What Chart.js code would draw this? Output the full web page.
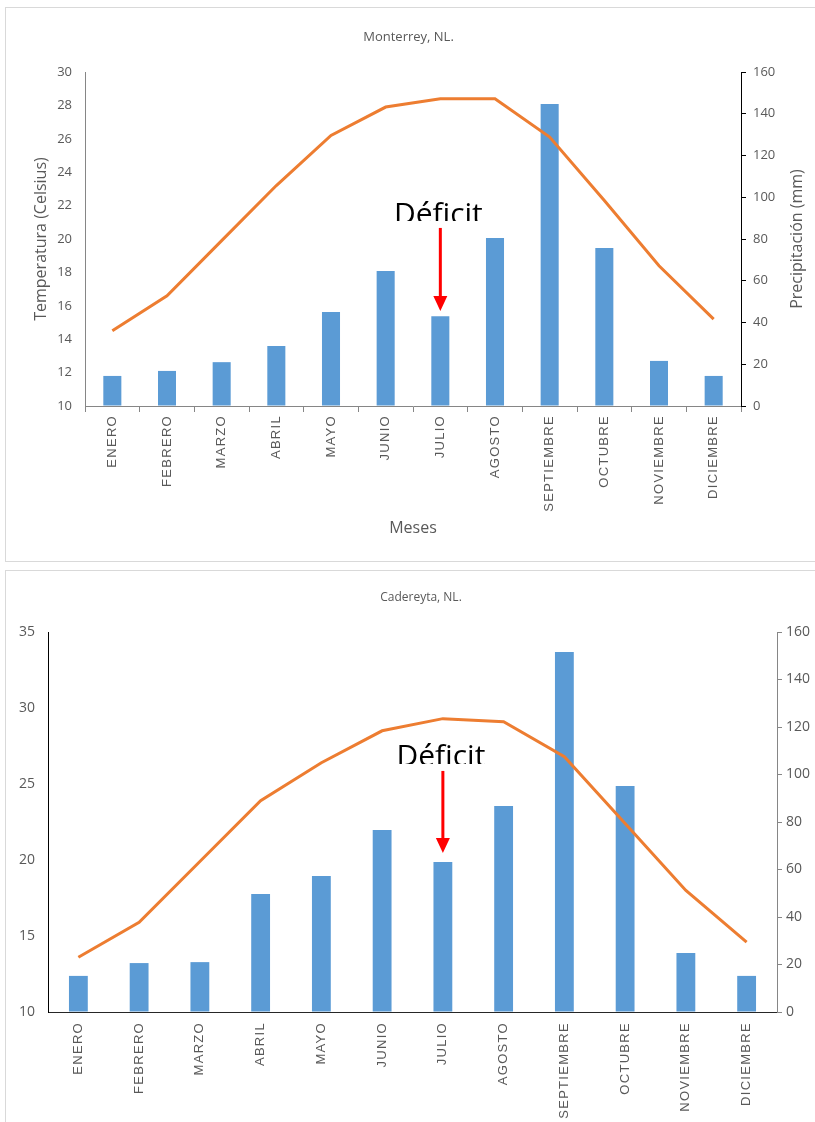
<!DOCTYPE html>
<html lang="es">
<head>
    <meta charset="UTF-8">
    <title>Climogramas Monterrey y Cadereyta</title>
    <script src="https://cdn.jsdelivr.net/npm/chart.js"></script>
    <style>
        html, body { margin: 0; padding: 0; background: #fff; overflow: hidden; }
        .frame { position: absolute; left: 5px; width: 830px; border: 1px solid #d9d9d9; }
        #f1 { top: 7px; height: 553px; }
        #f2 { top: 570px; height: 570px; }
        canvas { display: block; }
    </style>
</head>
<body>
    <div class="frame" id="f1"><canvas id="monterrey" width="830" height="553"></canvas></div>
    <div class="frame" id="f2"><canvas id="cadereyta" width="830" height="570"></canvas></div>

    <script>
        // Datos
        const meses = ['ENERO', 'FEBRERO', 'MARZO', 'ABRIL', 'MAYO', 'JUNIO', 'JULIO',
                       'AGOSTO', 'SEPTIEMBRE', 'OCTUBRE', 'NOVIEMBRE', 'DICIEMBRE'];
        const tempMonterrey = [14.5, 16.6, 19.9, 23.2, 26.2, 27.9, 28.4, 28.4, 26.1, 22.3, 18.4, 15.2];
        const precMonterrey = [14.4, 16.8, 21, 28.7, 45, 64.7, 43, 80.5, 144.7, 75.7, 21.6, 14.4];
        const tempCadereyta = [13.6, 15.9, 19.9, 23.9, 26.4, 28.5, 29.3, 29.1, 26.8, 22.4, 18.0, 14.6];
        const precCadereyta = [15.2, 20.6, 21, 49.7, 57.3, 76.6, 63.2, 86.7, 151.6, 95.2, 24.8, 15.2];

        const grey = '#595959';
        const orange = '#ED7D31';
        const blue = '#5B9BD5';

        // wider letter spacing for the month labels only
        const spacedLabels = {
            id: 'spacedLabels',
            beforeDraw(chart) {
                const sc = chart.scales.x;
                if (sc._spaced) return;
                const orig = sc.drawLabels.bind(sc);
                sc.drawLabels = (area) => {
                    chart.ctx.save();
                    chart.ctx.letterSpacing = '1.3px';
                    orig(area);
                    chart.ctx.restore();
                };
                sc._spaced = true;
            }
        };

        // right axis title reading bottom-to-top, like the left one
        const rightTitle = {
            id: 'rightTitle',
            afterDraw(chart, args, opts) {
                if (!opts.text) return;
                const ctx = chart.ctx;
                const sc = chart.scales.y1;
                ctx.save();
                ctx.translate(sc.right - opts.offset, (sc.top + sc.bottom) / 2);
                ctx.rotate(-Math.PI / 2);
                ctx.font = '16px "Open Sans"';
                ctx.fillStyle = grey;
                ctx.textAlign = 'center';
                ctx.textBaseline = 'middle';
                ctx.fillText(opts.text, 0, 0);
                ctx.restore();
            }
        };

        // "Déficit" label + red arrow over JULIO
        const deficit = {
            id: 'deficit',
            afterDatasetsDraw(chart, args, opts) {
                const ctx = chart.ctx;
                const x = chart.scales.x.getPixelForValue(opts.index);
                const y1 = chart.scales.y1;
                const yText = y1.getPixelForValue(opts.text);
                const yFrom = y1.getPixelForValue(opts.from);
                const yTo = y1.getPixelForValue(opts.to);
                ctx.save();
                ctx.beginPath();
                ctx.rect(x - 70, yText - 40, 140, 40 - opts.clip);
                ctx.clip();
                ctx.font = '30px "Open Sans"';
                ctx.fillStyle = '#000';
                ctx.textAlign = 'center';
                ctx.textBaseline = 'alphabetic';
                ctx.fillText('Déficit', x - 2, yText);
                ctx.restore();

                ctx.save();
                ctx.strokeStyle = '#ff0000';
                ctx.fillStyle = '#ff0000';
                ctx.lineWidth = 3;
                ctx.beginPath();
                ctx.moveTo(x, yFrom);
                ctx.lineTo(x, yTo - 14);
                ctx.stroke();
                ctx.beginPath();
                ctx.moveTo(x - 7, yTo - 15);
                ctx.lineTo(x + 7, yTo - 15);
                ctx.lineTo(x, yTo);
                ctx.closePath();
                ctx.fill();
                ctx.restore();
            }
        };

        function monthTicks(padding) {
            return {
                autoSkip: false, maxRotation: 90, minRotation: 90, padding: padding,
                color: grey, font: { family: 'Liberation Sans', size: 13 }
            };
        }

        // Monterrey
        new Chart(document.getElementById('monterrey'), {
            type: 'bar',
            data: {
                labels: meses,
                datasets: [{
                    type: 'line', label: 'Temperatura', data: tempMonterrey, yAxisID: 'y',
                    borderColor: orange, borderWidth: 3, pointRadius: 0, tension: 0, order: 0
                }, {
                    type: 'bar', label: 'Precipitación', data: precMonterrey, yAxisID: 'y1',
                    backgroundColor: blue, barPercentage: 0.33, categoryPercentage: 1, order: 1
                }]
            },
            options: {
                responsive: false, animation: false, devicePixelRatio: 1,
                layout: { padding: { left: 0, right: 25, top: 0, bottom: 10 } },
                plugins: {
                    legend: { display: false },
                    tooltip: { enabled: false },
                    title: {
                        display: true, text: 'Monterrey, NL.', color: grey,
                        font: { family: 'Open Sans', size: 13, weight: 'normal' },
                        padding: { top: 21.2, bottom: 27.2 }
                    },
                    rightTitle: { text: 'Precipitación (mm)', offset: 14 },
                    deficit: { index: 6, text: 87.2, clip: 3, from: 85.3, to: 45.5 }
                },
                scales: {
                    x: {
                        offset: true,
                        grid: { offset: true, drawOnChartArea: false, drawTicks: true, tickLength: 6, color: '#868686' },
                        border: { color: '#868686' },
                        ticks: monthTicks(3),
                        title: {
                            display: true, text: 'Meses', color: grey,
                            font: { family: 'Open Sans', size: 16 }, padding: { top: 0, bottom: 13.4 }
                        },
                        afterFit: s => { s.height = 145; }
                    },
                    y: {
                        position: 'left', min: 10, max: 30,
                        grid: { drawOnChartArea: false, drawTicks: false },
                        border: { color: '#868686' },
                        ticks: { stepSize: 2, padding: 13, color: grey, font: { family: 'Open Sans', size: 13 } },
                        title: {
                            display: true, text: 'Temperatura (Celsius)', color: grey,
                            font: { family: 'Open Sans', size: 16 }, padding: { top: 26, bottom: 0 }
                        },
                        afterFit: s => { s.width = 79; }
                    },
                    y1: {
                        position: 'right', min: 0, max: 160,
                        grid: { drawOnChartArea: false, drawTicks: true, tickLength: 5, color: '#000' },
                        border: { color: '#000' },
                        ticks: { stepSize: 20, padding: 7, color: grey, font: { family: 'Open Sans', size: 13 } },
                        afterFit: s => { s.width = 70; }
                    }
                }
            },
            plugins: [spacedLabels, rightTitle, deficit]
        });

        // Cadereyta
        new Chart(document.getElementById('cadereyta'), {
            type: 'bar',
            data: {
                labels: meses,
                datasets: [{
                    type: 'line', label: 'Temperatura', data: tempCadereyta, yAxisID: 'y',
                    borderColor: orange, borderWidth: 3, pointRadius: 0, tension: 0, order: 0
                }, {
                    type: 'bar', label: 'Precipitación', data: precCadereyta, yAxisID: 'y1',
                    backgroundColor: blue, barPercentage: 0.31, categoryPercentage: 1, order: 1
                }]
            },
            options: {
                responsive: false, animation: false, devicePixelRatio: 1,
                layout: { padding: { left: 0, right: 0, top: 0, bottom: 0 } },
                plugins: {
                    legend: { display: false },
                    tooltip: { enabled: false },
                    title: {
                        display: true, text: 'Cadereyta, NL.', color: grey,
                        font: { family: 'Open Sans', size: 12, weight: 'normal' },
                        padding: { top: 19.8, bottom: 26.8 }
                    },
                    deficit: { index: 6, text: 103.6, clip: 2, from: 101.5, to: 67 }
                },
                scales: {
                    x: {
                        offset: true,
                        grid: { offset: true, drawOnChartArea: false, drawTicks: false },
                        border: { color: '#262626' },
                        ticks: monthTicks(10),
                        afterFit: s => { s.height = 129; }
                    },
                    y: {
                        position: 'left', min: 10, max: 35,
                        grid: { drawOnChartArea: false, drawTicks: false },
                        border: { color: '#000' },
                        ticks: { stepSize: 5, padding: 13, color: grey, font: { family: 'Open Sans', size: 14 } },
                        afterFit: s => { s.width = 42; }
                    },
                    y1: {
                        position: 'right', min: 0, max: 160,
                        grid: { drawOnChartArea: false, drawTicks: true, tickLength: 5, color: '#868686' },
                        border: { color: '#868686' },
                        ticks: { stepSize: 20, padding: 4, color: grey, font: { family: 'Open Sans', size: 14 } },
                        afterFit: s => { s.width = 59; }
                    }
                }
            },
            plugins: [spacedLabels, deficit]
        });
    </script>
</body>
</html>
